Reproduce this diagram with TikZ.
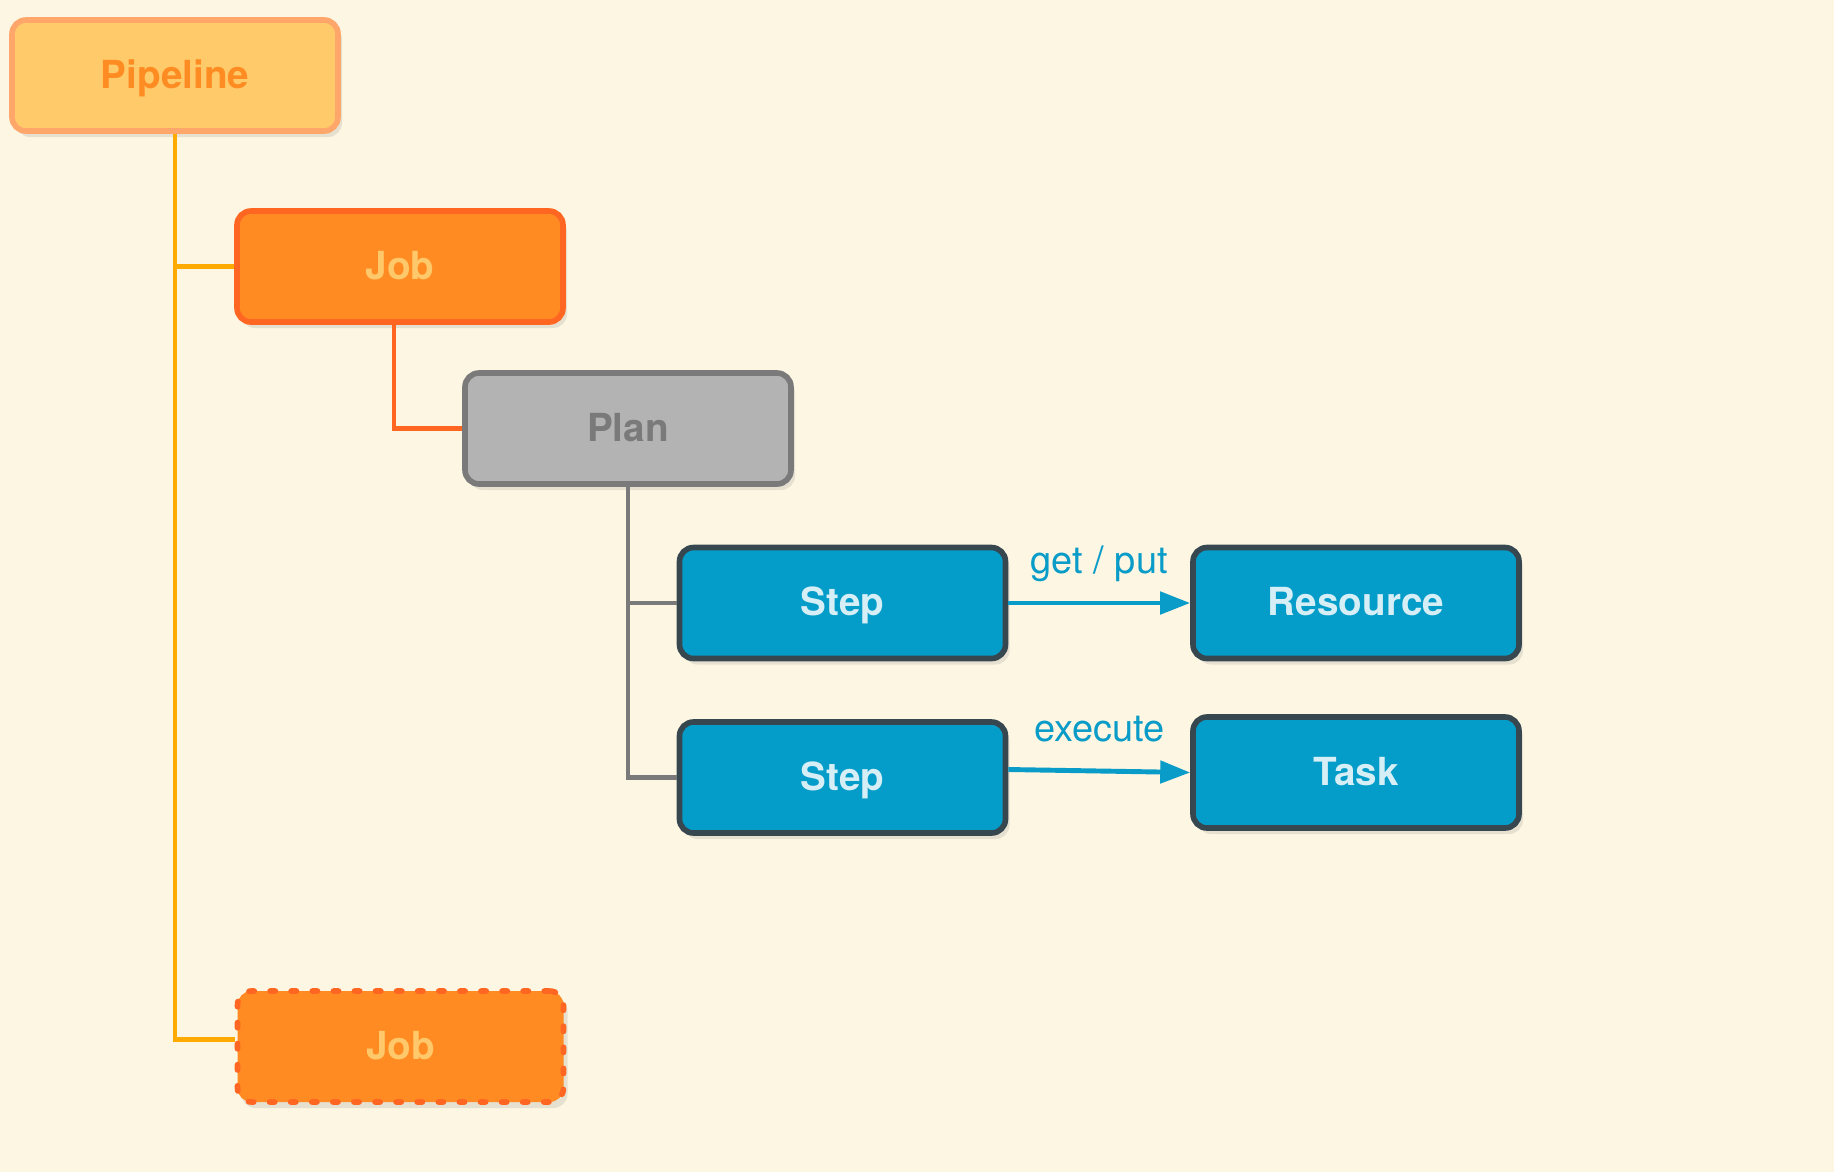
\documentclass[tikz,border=0pt]{standalone}
\usepackage{fontspec}
\setmainfont{TeX Gyre Heros}
\usetikzlibrary{arrows.meta,shadows}
\definecolor{bgcream}{RGB}{253,246,227}
\definecolor{pipefill}{RGB}{255,202,106}
\definecolor{pipedraw}{RGB}{255,166,106}
\definecolor{pipetext}{RGB}{255,140,34}
\definecolor{jobfill}{RGB}{255,139,34}
\definecolor{jobdraw}{RGB}{255,102,34}
\definecolor{jobtext}{RGB}{255,200,106}
\definecolor{planfill}{RGB}{179,179,179}
\definecolor{plandraw}{RGB}{122,122,122}
\definecolor{stepfill}{RGB}{4,156,200}
\definecolor{stepdraw}{RGB}{55,71,79}
\definecolor{steptext}{RGB}{214,238,245}
\definecolor{trunk}{RGB}{255,170,0}
\definecolor{callblue}{RGB}{10,156,200}
\begin{document}
\begin{tikzpicture}[
	box/.style={rounded corners=0.14cm, minimum width=3.26cm, minimum height=1.11cm, line width=1.6pt,
	  font=\fontsize{11}{13}\selectfont\bfseries, text height=0.72em, text depth=0pt,
	  drop shadow={shadow xshift=0.4mm, shadow yshift=-0.6mm, opacity=0.18}},
	pipebox/.style={box, fill=pipefill, draw=pipedraw, text=pipetext},
	jobbox/.style={box, fill=jobfill, draw=jobdraw, text=jobtext},
	planbox/.style={box, fill=planfill, draw=plandraw, text=plandraw},
	stepbox/.style={box, fill=stepfill, draw=stepdraw, text=steptext},
	link/.style={line width=1.4pt},
	call/.style={line width=1.4pt, draw=callblue, -{Triangle[length=0.3cm,width=0.22cm]}},
	verb/.style={text=callblue, font=\fontsize{10.8}{13}\selectfont, text height=0.75em, text depth=0.22em, above=0.08cm}]
	\fill[bgcream] (0,0) rectangle (18.34,-11.72);
	\node[pipebox] (pipeline) at (1.75,-0.755) {Pipeline};
	\node[jobbox] (job) at (4.00,-2.665) {Job};
	\node[planbox] (plan) at (6.28,-4.285) {Plan};
	\node[stepbox] (stepA) at (8.425,-6.03) {Step};
	\node[stepbox] (stepB) at (8.425,-7.775) {Step};
	\node[stepbox] (resource) at (13.56,-6.03) {Resource};
	\node[stepbox] (task) at (13.56,-7.725) {Task};
	\node[jobbox, dash pattern=on 1.5pt off 4.5pt, line cap=round] (nextjob) at (4.005,-10.465) {Job};
	% tree lines
	\draw[link, trunk] (pipeline.south) |- (job.west);
	\draw[link, trunk] (pipeline.south) |- ([yshift=0.07cm]nextjob.west);
	\draw[link, jobdraw] ([xshift=-0.06cm]job.south) |- (plan.west);
	\draw[link, plandraw] (plan.south) |- (stepA.west);
	\draw[link, plandraw] (plan.south) |- (stepB.west);
	% what the steps do
	\draw[call] (stepA) -- node[verb] {get / put} (resource);
	\draw[call] ([yshift=0.08cm]stepB.east) -- node[verb] {execute} (task.west);
\end{tikzpicture}
\end{document}
